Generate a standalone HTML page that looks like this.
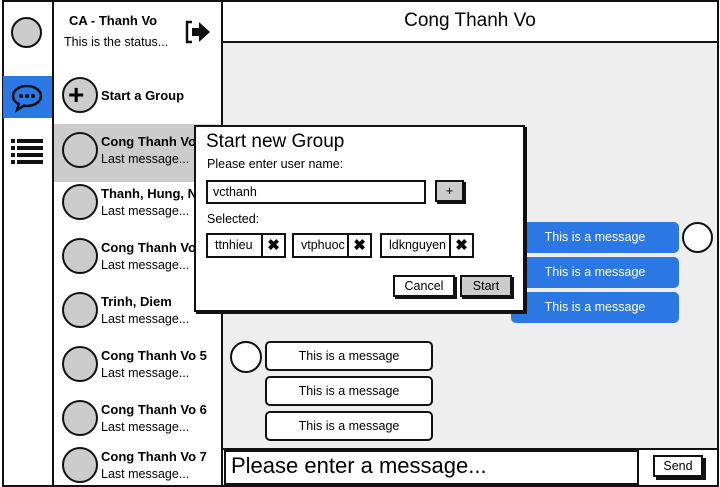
<!DOCTYPE html>
<html><head><meta charset="utf-8"><style>
*{box-sizing:border-box;margin:0;padding:0}
body{width:720px;height:487px;position:relative;background:#fff;font-family:"Liberation Sans",sans-serif;color:#000;overflow:hidden}
.a{position:absolute}
.b{border:2px solid #111}
.c{border-radius:50%}
.t{position:absolute;white-space:nowrap}
.av{position:absolute;width:36px;height:36px;border-radius:50%;border:2px solid #111;background:#ccc;left:62px}
.nm{position:absolute;left:101px;font-weight:bold;font-size:13px;white-space:nowrap}
.lm{position:absolute;left:101px;font-size:12.5px;white-space:nowrap}
.bl{position:absolute;left:511px;width:168px;height:31px;background:#2b78e4;border-radius:5px;color:#fff;font-size:12.5px;text-align:center;line-height:31px}
.wm{position:absolute;left:265px;width:168px;height:30px;background:#fff;border:2px solid #111;border-radius:5px;font-size:12.5px;text-align:center;line-height:26px}
.chip{position:absolute;top:233px;height:25px;border:2px solid #111;background:#fff;font-size:12.5px;line-height:21px;padding-left:7px}
.x{position:absolute;right:0;top:0;width:23px;height:21px;border-left:2px solid #111;text-align:center;font-weight:bold;font-size:15px;line-height:21px}
</style></head><body>
<!-- nav -->
<div class="a b" style="left:2px;top:0;width:52px;height:487px"></div>
<div class="a c b" style="left:11px;top:17px;width:31px;height:31px;background:#ccc"></div>
<div class="a" style="left:3px;top:76px;width:49px;height:42px;background:#2b78e4"></div>
<svg class="a" style="left:10px;top:82px" width="34" height="32"><ellipse cx="17" cy="14" rx="14" ry="10" fill="#2b78e4" stroke="#111" stroke-width="2.5"/><path d="M9 21 L7 28 L15 23" fill="#2b78e4" stroke="#111" stroke-width="2.5"/><circle cx="11" cy="14" r="2" fill="#111"/><circle cx="17" cy="14" r="2" fill="#111"/><circle cx="23" cy="14" r="2" fill="#111"/></svg>
<svg class="a" style="left:10px;top:138px" width="36" height="28"><g fill="#111"><rect x="1" y="1" width="4" height="4"/><rect x="7" y="1" width="26" height="4"/><rect x="1" y="8" width="4" height="4"/><rect x="7" y="8" width="26" height="4"/><rect x="1" y="15" width="4" height="4"/><rect x="7" y="15" width="26" height="4"/><rect x="1" y="22" width="4" height="4"/><rect x="7" y="22" width="26" height="4"/></g></svg>
<!-- contact list -->
<div class="a b" style="left:52px;top:0;width:171px;height:487px"></div>
<div class="t" style="left:69px;top:13px;font-weight:bold;font-size:13px">CA - Thanh Vo</div>
<div class="t" style="left:64px;top:35px;font-size:12.5px">This is the status...</div>
<svg class="a" style="left:184px;top:19px" width="28" height="26"><path d="M8 3 H3 V23 H8" fill="none" stroke="#111" stroke-width="2.5"/><path d="M8 9 H15 V3 L26 13 L15 23 V17 H8 Z" fill="#111"/></svg>
<div class="av" style="top:77px;background:#ccc"></div>
<div class="t" style="left:68px;top:82px;font-size:28px;line-height:26px;font-weight:bold">+</div>
<div class="t" style="left:101px;top:88px;font-weight:bold;font-size:13px">Start a Group</div>
<div class="a" style="left:54px;top:124px;width:166px;height:58px;background:#ccc"></div>
<div class="av" style="top:132px;background:#ccc"></div><div class="nm" style="top:134px">Cong Thanh Vo</div><div class="lm" style="top:152px">Last message...</div>
<div class="av" style="top:184px"></div><div class="nm" style="top:186px">Thanh, Hung, Nam</div><div class="lm" style="top:204px">Last message...</div>
<div class="av" style="top:238px"></div><div class="nm" style="top:240px">Cong Thanh Vo</div><div class="lm" style="top:258px">Last message...</div>
<div class="av" style="top:292px"></div><div class="nm" style="top:294px">Trinh, Diem</div><div class="lm" style="top:312px">Last message...</div>
<div class="av" style="top:346px"></div><div class="nm" style="top:348px">Cong Thanh Vo 5</div><div class="lm" style="top:366px">Last message...</div>
<div class="av" style="top:400px"></div><div class="nm" style="top:402px">Cong Thanh Vo 6</div><div class="lm" style="top:420px">Last message...</div>
<div class="av" style="top:447px"></div><div class="nm" style="top:449px">Cong Thanh Vo 7</div><div class="lm" style="top:467px">Last message...</div>
<!-- chat -->
<div class="a b" style="left:221px;top:0;width:498px;height:487px;background:#eee"></div>
<div class="a b" style="left:221px;top:0;width:498px;height:43px;background:#fff"></div>
<div class="t" style="left:221px;width:498px;top:10px;text-align:center;font-size:19px">Cong Thanh Vo</div>
<div class="bl" style="top:222px">This is a message</div>
<div class="bl" style="top:257px">This is a message</div>
<div class="bl" style="top:292px">This is a message</div>
<div class="a c b" style="left:682px;top:222px;width:31px;height:31px;background:#fff"></div>
<div class="a c b" style="left:230px;top:341px;width:32px;height:32px;background:#fff"></div>
<div class="wm" style="top:341px">This is a message</div>
<div class="wm" style="top:376px">This is a message</div>
<div class="wm" style="top:411px">This is a message</div>
<div class="a" style="left:221px;top:448px;width:498px;height:39px;background:#fff;border:2px solid #111"></div>
<div class="a b" style="left:224px;top:450px;width:415px;height:35px;background:#fff"></div>
<div class="t" style="left:231px;top:453px;font-size:22px">Please enter a message...</div>
<div class="a b" style="left:653px;top:455px;width:50px;height:22px;background:#fff;box-shadow:3px 3px 0 #111;font-size:12.5px;text-align:center;line-height:18px">Send</div>
<!-- dialog -->
<div class="a b" style="left:194px;top:125px;width:331px;height:187px;background:#fff;box-shadow:2px 2px 0 #111"></div>
<div class="t" style="left:206px;top:131px;font-size:19px">Start new Group</div>
<div class="t" style="left:207px;top:157px;font-size:12.5px">Please enter user name:</div>
<div class="a b" style="left:206px;top:180px;width:220px;height:24px;background:#fff;font-size:12.5px;line-height:20px;padding-left:5px">vcthanh</div>
<div class="a b" style="left:435px;top:180px;width:29px;height:22px;background:#ccc;box-shadow:2px 2px 0 #111;text-align:center;font-size:13px;line-height:18px">+</div>
<div class="t" style="left:207px;top:212px;font-size:12.5px">Selected:</div>
<div class="chip" style="left:206px;width:80px">ttnhieu<div class="x">✖</div></div>
<div class="chip" style="left:292px;width:80px">vtphuoc<div class="x">✖</div></div>
<div class="chip" style="left:380px;width:94px">ldknguyen<div class="x">✖</div></div>
<div class="a b" style="left:393px;top:275px;width:62px;height:22px;background:#fff;box-shadow:2px 2px 0 #111;text-align:center;font-size:12.5px;line-height:18px">Cancel</div>
<div class="a b" style="left:460px;top:275px;width:52px;height:22px;background:#ccc;box-shadow:2px 2px 0 #111;text-align:center;font-size:12.5px;line-height:18px">Start</div>
</body></html>
